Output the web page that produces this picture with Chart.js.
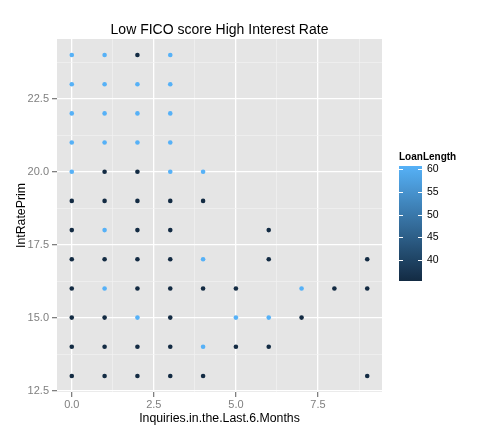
<!DOCTYPE html>
<html>
<head>
<meta charset="utf-8">
<script src="https://cdn.jsdelivr.net/npm/chart.js@4/dist/chart.umd.min.js"></script>
<style>
html,body{margin:0;padding:0;background:#fff;}
#wrap{width:492px;height:437px;position:relative;}
</style>
</head>
<body>
<div id="wrap"><canvas id="c" width="492" height="437"></canvas></div>
<script>
// ---- data ----
const inquiries = [
  0,1,2,3,
  0,1,2,3,
  0,1,2,3,
  0,1,2,3,
  0,1,2,3,4,
  0,1,2,3,4,
  0,1,2,3,6,
  0,1,2,3,4,6,9,
  0,1,2,3,4,5,7,8,9,
  0,1,2,3,5,6,7,
  0,1,2,3,4,5,6,
  0,1,2,3,4,9
];
const intRate = [
  24,24,24,24,
  23,23,23,23,
  22,22,22,22,
  21,21,21,21,
  20,20,20,20,20,
  19,19,19,19,19,
  18,18,18,18,18,
  17,17,17,17,17,17,17,
  16,16,16,16,16,16,16,16,16,
  15,15,15,15,15,15,15,
  14,14,14,14,14,14,14,
  13,13,13,13,13,13
];
const loanLength = [
  60,60,36,60,
  60,60,60,60,
  60,60,60,60,
  60,60,60,60,
  60,36,36,60,60,
  36,36,36,36,36,
  36,60,36,36,36,
  36,36,36,36,60,36,36,
  36,60,36,36,36,36,60,36,36,
  36,36,60,36,60,60,36,
  36,36,36,36,60,36,36,
  36,36,36,36,36,36
];
const xMajorTicks = [0, 2.5, 5, 7.5];
const xMinorTicks = [1.25, 3.75, 6.25, 8.75];
const yMajorTicks = [12.5, 15, 17.5, 20, 22.5];
const yMinorTicks = [13.75, 16.25, 18.75, 21.25, 23.75];
const legendTicks = [40, 45, 50, 55, 60];
const loanMin = 36, loanMax = 60;
const chartTitle = 'Low FICO score High Interest Rate';

// ---- colours ----
const lowCol = [0x13,0x2B,0x43], highCol = [0x56,0xB1,0xF7];
function colourFor(v){
  const t = (v - loanMin)/(loanMax - loanMin);
  const c = lowCol.map((l,i)=>Math.round(l + (highCol[i]-l)*t));
  return `rgb(${c[0]},${c[1]},${c[2]})`;
}

const points = inquiries.map((x,i)=>({x:x, y:intRate[i]}));
const FONT = "'Liberation Sans', Arial, sans-serif";

const isMajor = (v, arr) => arr.some(m => Math.abs(m - v) < 1e-6);

const legendPlugin = {
  id:'colorbar',
  afterDraw(chart){
    const ctx = chart.ctx;
    const a = chart.chartArea;
    ctx.save();
    ctx.font = "14px " + FONT;
    ctx.fillStyle = '#000';
    ctx.textAlign = 'center';
    ctx.textBaseline = 'middle';
    ctx.fillText(chartTitle, (a.left + a.right)/2, 30);
    const barX = 399, barW = 23, barTop = 166, barBot = 281;
    const y60 = 169, pxPerUnit = 4.55;
    const yFor = v => y60 + (60 - v)*pxPerUnit;
    ctx.font = "bold 10px " + FONT;
    ctx.textAlign = 'left';
    ctx.fillText('LoanLength', barX, 157);
    const g = ctx.createLinearGradient(0, barTop, 0, barBot);
    const steps = 10;
    for (let k=0;k<=steps;k++){
      const v = loanMax - (loanMax-loanMin)*k/steps;
      g.addColorStop(k/steps, colourFor(v));
    }
    ctx.fillStyle = g;
    ctx.fillRect(barX, barTop, barW, barBot-barTop);
    ctx.strokeStyle = '#fff';
    ctx.lineWidth = 1;
    ctx.font = "10.5px " + FONT;
    ctx.fillStyle = '#000';
    legendTicks.forEach(v=>{
      const y = Math.round(yFor(v)) + 0.5;
      ctx.beginPath();
      ctx.moveTo(barX, y); ctx.lineTo(barX+4, y);
      ctx.moveTo(barX+barW-4, y); ctx.lineTo(barX+barW, y);
      ctx.stroke();
      ctx.fillText(String(v), barX+barW+5, y);
    });
    ctx.restore();
  }
};

const bgPlugin = {
  id:'panelbg',
  beforeDraw(chart){
    const {ctx, chartArea:a} = chart;
    ctx.save();
    ctx.fillStyle = '#E5E5E5';
    ctx.fillRect(a.left, a.top, a.right-a.left, a.bottom-a.top);
    ctx.restore();
  }
};

new Chart(document.getElementById('c'), {
  type:'scatter',
  data:{
    datasets:[{
      data: points,
      pointBackgroundColor: loanLength.map(colourFor),
      pointBorderWidth: 0,
      pointRadius: 2.3,
      pointHoverRadius: 2.3
    }]
  },
  plugins:[bgPlugin, legendPlugin],
  options:{
    responsive:false,
    animation:false,
    events:[],
    layout:{padding:{left:0, right:110, top:39, bottom:0}},
    plugins:{
      legend:{display:false},
      tooltip:{enabled:false},
      title:{display:false}
    },
    scales:{
      x:{
        type:'linear',
        min:-0.45, max:9.45,
        afterBuildTicks(s){ s.ticks = [...xMajorTicks, ...xMinorTicks].sort((a,b)=>a-b).map(v=>({value:v})); },
        afterFit(s){ s.height = 45; },
        border:{display:false},
        grid:{
          color: c => isMajor(c.tick.value, xMajorTicks) ? '#FFFFFF' : '#F2F2F2',
          lineWidth: c => isMajor(c.tick.value, xMajorTicks) ? 1.3 : 0.7,
          tickColor: c => isMajor(c.tick.value, xMajorTicks) ? '#7F7F7F' : 'rgba(0,0,0,0)',
          tickLength:5,
          drawTicks:true
        },
        ticks:{
          autoSkip:false,
          maxRotation:0,
          padding:1,
          color:'#7F7F7F',
          font:{family:FONT, size:11},
          callback: v => isMajor(v, xMajorTicks) ? v.toFixed(1) : ''
        },
        title:{
          display:true,
          text:'Inquiries.in.the.Last.6.Months',
          color:'#000',
          font:{family:FONT, size:12.3},
          padding:{top:0, bottom:11}
        }
      },
      y:{
        type:'linear',
        min:12.45, max:24.55,
        afterBuildTicks(s){ s.ticks = [...yMajorTicks, ...yMinorTicks].sort((a,b)=>a-b).map(v=>({value:v})); },
        afterFit(s){ s.width = 57; },
        border:{display:false},
        grid:{
          color: c => isMajor(c.tick.value, yMajorTicks) ? '#FFFFFF' : '#F2F2F2',
          lineWidth: c => isMajor(c.tick.value, yMajorTicks) ? 1.3 : 0.7,
          tickColor: c => isMajor(c.tick.value, yMajorTicks) ? '#7F7F7F' : 'rgba(0,0,0,0)',
          tickLength:5,
          drawTicks:true
        },
        ticks:{
          autoSkip:false,
          padding:3,
          color:'#7F7F7F',
          font:{family:FONT, size:11},
          callback: v => isMajor(v, yMajorTicks) ? v.toFixed(1) : ''
        },
        title:{
          display:true,
          text:'IntRatePrim',
          color:'#000',
          font:{family:FONT, size:12.3},
          padding:{top:14, bottom:0}
        }
      }
    }
  }
});
</script>
</body>
</html>
